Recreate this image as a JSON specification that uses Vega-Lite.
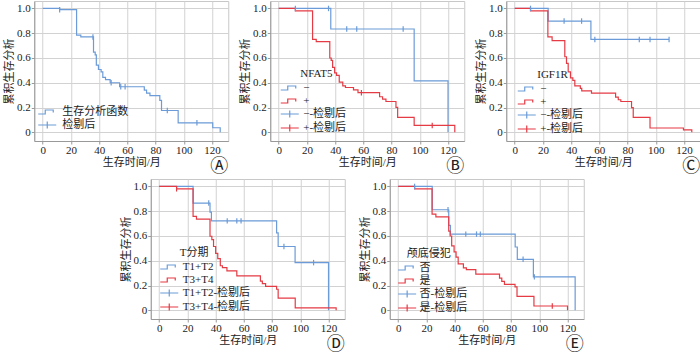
{
  "$schema": "https://vega.github.io/schema/vega-lite/v6.json",
  "padding": {"left": 3, "top": 0, "right": 0, "bottom": 0},
  "background": "white",
  "datasets": {
    "A_line": [
      {"t": 0, "S": 1, "g": "生存分析函数"}, {"t": 12, "S": 0.99, "g": "生存分析函数"}, {"t": 24, "S": 0.785, "g": "生存分析函数"},
      {"t": 27, "S": 0.77, "g": "生存分析函数"}, {"t": 36, "S": 0.647, "g": "生存分析函数"}, {"t": 37.2, "S": 0.625, "g": "生存分析函数"},
      {"t": 38, "S": 0.543, "g": "生存分析函数"}, {"t": 39.5, "S": 0.507, "g": "生存分析函数"}, {"t": 41.4, "S": 0.488, "g": "生存分析函数"},
      {"t": 42.6, "S": 0.443, "g": "生存分析函数"}, {"t": 44.5, "S": 0.425, "g": "生存分析函数"}, {"t": 47.8, "S": 0.4, "g": "生存分析函数"},
      {"t": 54.5, "S": 0.368, "g": "生存分析函数"}, {"t": 72, "S": 0.34, "g": "生存分析函数"}, {"t": 73.6, "S": 0.317, "g": "生存分析函数"},
      {"t": 76, "S": 0.296, "g": "生存分析函数"}, {"t": 83, "S": 0.258, "g": "生存分析函数"}, {"t": 84.2, "S": 0.176, "g": "生存分析函数"},
      {"t": 96, "S": 0.077, "g": "生存分析函数"}, {"t": 120.5, "S": 0.037, "g": "生存分析函数"}, {"t": 125.8, "S": 0, "g": "生存分析函数"}
    ],
    "A_cens": [
      {"t": 12, "S": 0.99, "g": "检剔后"}, {"t": 35.6, "S": 0.77, "g": "检剔后"}, {"t": 48.5, "S": 0.4, "g": "检剔后"},
      {"t": 55.3, "S": 0.368, "g": "检剔后"}, {"t": 58.4, "S": 0.368, "g": "检剔后"}, {"t": 88.3, "S": 0.176, "g": "检剔后"},
      {"t": 109.3, "S": 0.077, "g": "检剔后"}
    ],
    "A_leg": [{"g": "生存分析函数"}, {"g": "检剔后"}],
    "B_line": [
      {"t": 0, "S": 1, "g": "−"}, {"t": 36.9, "S": 0.834, "g": "−"}, {"t": 96, "S": 0.416, "g": "−"}, {"t": 120, "S": 0, "g": "−"},
      {"t": 0, "S": 1, "g": "+"}, {"t": 11.8, "S": 0.981, "g": "+"}, {"t": 24, "S": 0.75, "g": "+"}, {"t": 26.6, "S": 0.732, "g": "+"},
      {"t": 36.2, "S": 0.6, "g": "+"}, {"t": 37.2, "S": 0.58, "g": "+"}, {"t": 38.2, "S": 0.525, "g": "+"}, {"t": 39.6, "S": 0.48, "g": "+"},
      {"t": 41, "S": 0.46, "g": "+"}, {"t": 42.9, "S": 0.405, "g": "+"}, {"t": 45.4, "S": 0.375, "g": "+"}, {"t": 47.3, "S": 0.362, "g": "+"},
      {"t": 53, "S": 0.343, "g": "+"}, {"t": 56.2, "S": 0.32, "g": "+"}, {"t": 71.5, "S": 0.287, "g": "+"}, {"t": 73.6, "S": 0.268, "g": "+"},
      {"t": 76, "S": 0.249, "g": "+"}, {"t": 83.1, "S": 0.202, "g": "+"}, {"t": 84.3, "S": 0.121, "g": "+"}, {"t": 96, "S": 0.056, "g": "+"},
      {"t": 124.8, "S": 0, "g": "+"}
    ],
    "B_cens": [
      {"t": 11.8, "S": 1, "g": "−-检剔后"}, {"t": 35.3, "S": 1, "g": "−-检剔后"}, {"t": 48.2, "S": 0.834, "g": "−-检剔后"},
      {"t": 55.3, "S": 0.834, "g": "−-检剔后"}, {"t": 88.2, "S": 0.834, "g": "−-检剔后"},
      {"t": 58.6, "S": 0.32, "g": "+-检剔后"}, {"t": 108.8, "S": 0.056, "g": "+-检剔后"}
    ],
    "C_line": [
      {"t": 0, "S": 1, "g": "−"}, {"t": 23.7, "S": 0.898, "g": "−"}, {"t": 54, "S": 0.75, "g": "−"}, {"t": 109.4, "S": 0.75, "g": "−"},
      {"t": 0, "S": 1, "g": "+"}, {"t": 11.2, "S": 0.981, "g": "+"}, {"t": 23.5, "S": 0.77, "g": "+"}, {"t": 26.5, "S": 0.74, "g": "+"},
      {"t": 35.5, "S": 0.61, "g": "+"}, {"t": 36.7, "S": 0.557, "g": "+"}, {"t": 37.9, "S": 0.488, "g": "+"}, {"t": 39.5, "S": 0.44, "g": "+"},
      {"t": 41.2, "S": 0.42, "g": "+"}, {"t": 42.6, "S": 0.375, "g": "+"}, {"t": 46.5, "S": 0.355, "g": "+"}, {"t": 47.5, "S": 0.335, "g": "+"},
      {"t": 54.4, "S": 0.316, "g": "+"}, {"t": 71.5, "S": 0.284, "g": "+"}, {"t": 73.4, "S": 0.263, "g": "+"}, {"t": 75.2, "S": 0.249, "g": "+"},
      {"t": 82.8, "S": 0.2, "g": "+"}, {"t": 84, "S": 0.12, "g": "+"}, {"t": 95.9, "S": 0.035, "g": "+"}, {"t": 119.6, "S": 0.02, "g": "+"},
      {"t": 125.5, "S": 0, "g": "+"}
    ],
    "C_cens": [
      {"t": 11.2, "S": 1, "g": "−-检剔后"}, {"t": 35, "S": 0.898, "g": "−-检剔后"}, {"t": 47.4, "S": 0.898, "g": "−-检剔后"},
      {"t": 56.8, "S": 0.75, "g": "−-检剔后"}, {"t": 88.3, "S": 0.75, "g": "−-检剔后"}, {"t": 95.9, "S": 0.75, "g": "−-检剔后"},
      {"t": 109.4, "S": 0.75, "g": "−-检剔后"}
    ],
    "D_line": [
      {"t": 0, "S": 1, "g": "T1+T2"}, {"t": 24, "S": 0.866, "g": "T1+T2"}, {"t": 36, "S": 0.793, "g": "T1+T2"}, {"t": 37, "S": 0.722, "g": "T1+T2"},
      {"t": 83.2, "S": 0.625, "g": "T1+T2"}, {"t": 84.3, "S": 0.515, "g": "T1+T2"}, {"t": 96.3, "S": 0.385, "g": "T1+T2"}, {"t": 120, "S": 0, "g": "T1+T2"},
      {"t": 0, "S": 1, "g": "T3+T4"}, {"t": 12.3, "S": 0.981, "g": "T3+T4"}, {"t": 24, "S": 0.758, "g": "T3+T4"}, {"t": 26.4, "S": 0.736, "g": "T3+T4"},
      {"t": 36, "S": 0.598, "g": "T3+T4"}, {"t": 37.3, "S": 0.57, "g": "T3+T4"}, {"t": 38.5, "S": 0.515, "g": "T3+T4"}, {"t": 40, "S": 0.46, "g": "T3+T4"},
      {"t": 41.5, "S": 0.418, "g": "T3+T4"}, {"t": 43.3, "S": 0.36, "g": "T3+T4"}, {"t": 44.8, "S": 0.344, "g": "T3+T4"}, {"t": 48, "S": 0.318, "g": "T3+T4"},
      {"t": 55, "S": 0.278, "g": "T3+T4"}, {"t": 71.7, "S": 0.236, "g": "T3+T4"}, {"t": 73.1, "S": 0.215, "g": "T3+T4"}, {"t": 75.4, "S": 0.194, "g": "T3+T4"},
      {"t": 83.2, "S": 0.17, "g": "T3+T4"}, {"t": 84.3, "S": 0.099, "g": "T3+T4"}, {"t": 96.4, "S": 0.02, "g": "T3+T4"}, {"t": 125.4, "S": 0, "g": "T3+T4"}
    ],
    "D_cens": [
      {"t": 35.1, "S": 0.866, "g": "T1+T2-检剔后"}, {"t": 48.2, "S": 0.722, "g": "T1+T2-检剔后"}, {"t": 55, "S": 0.722, "g": "T1+T2-检剔后"},
      {"t": 58, "S": 0.722, "g": "T1+T2-检剔后"}, {"t": 88.4, "S": 0.515, "g": "T1+T2-检剔后"}, {"t": 109.4, "S": 0.385, "g": "T1+T2-检剔后"},
      {"t": 12.3, "S": 0.981, "g": "T3+T4-检剔后"}
    ],
    "E_line": [
      {"t": 0, "S": 1, "g": "否"}, {"t": 24.1, "S": 0.812, "g": "否"}, {"t": 35.8, "S": 0.685, "g": "否"}, {"t": 37, "S": 0.615, "g": "否"},
      {"t": 82.9, "S": 0.511, "g": "否"}, {"t": 84.4, "S": 0.412, "g": "否"}, {"t": 95.8, "S": 0.27, "g": "否"}, {"t": 125.4, "S": 0, "g": "否"},
      {"t": 0, "S": 1, "g": "是"}, {"t": 11.6, "S": 0.981, "g": "是"}, {"t": 24, "S": 0.776, "g": "是"}, {"t": 26.7, "S": 0.755, "g": "是"},
      {"t": 35.8, "S": 0.64, "g": "是"}, {"t": 36.8, "S": 0.6, "g": "是"}, {"t": 37.9, "S": 0.52, "g": "是"}, {"t": 39.6, "S": 0.472, "g": "是"},
      {"t": 41, "S": 0.43, "g": "是"}, {"t": 42.5, "S": 0.375, "g": "是"}, {"t": 46.2, "S": 0.343, "g": "是"}, {"t": 48.3, "S": 0.328, "g": "是"},
      {"t": 55, "S": 0.292, "g": "是"}, {"t": 71.8, "S": 0.26, "g": "是"}, {"t": 73.4, "S": 0.234, "g": "是"}, {"t": 75.3, "S": 0.21, "g": "是"},
      {"t": 82.8, "S": 0.19, "g": "是"}, {"t": 84.2, "S": 0.113, "g": "是"}, {"t": 96.2, "S": 0.035, "g": "是"}, {"t": 120, "S": 0, "g": "是"}
    ],
    "E_cens": [
      {"t": 11.6, "S": 1, "g": "否-检剔后"}, {"t": 35.3, "S": 0.812, "g": "否-检剔后"}, {"t": 47.9, "S": 0.615, "g": "否-检剔后"},
      {"t": 55.5, "S": 0.615, "g": "否-检剔后"}, {"t": 58.2, "S": 0.615, "g": "否-检剔后"}, {"t": 88.5, "S": 0.412, "g": "否-检剔后"},
      {"t": 96.5, "S": 0.27, "g": "否-检剔后"}, {"t": 109.2, "S": 0.035, "g": "是-检剔后"}
    ],
    "B_leg": [{"g": "−"}, {"g": "+"}, {"g": "−-检剔后"}, {"g": "+-检剔后"}],
    "D_leg": [{"g": "T1+T2"}, {"g": "T3+T4"}, {"g": "T1+T2-检剔后"}, {"g": "T3+T4-检剔后"}],
    "E_leg": [{"g": "否"}, {"g": "是"}, {"g": "否-检剔后"}, {"g": "是-检剔后"}]
  },
  "vconcat": [
    {
      "hconcat": [
        {
          "width": 194, "height": 140,
          "title": "Ⓐ",
          "layer": [
            {"data": {"name": "A_leg"}, "mark": {"type": "point", "filled": false, "opacity": 0, "strokeWidth": 1.2},
             "encoding": {
               "color": {"field": "g", "type": "nominal", "scale": {"domain": ["生存分析函数", "检剔后"], "range": ["#6b9bd8", "#6b9bd8"]}, "legend": {"orient": "none", "legendX": 7, "legendY": 105, "title": null}},
               "shape": {"field": "g", "type": "nominal", "scale": {"domain": ["生存分析函数", "检剔后"], "range": ["M-1.8,0.4L-0.4,0.4L-0.4,-0.4L1.2,-0.4L1.2,0.1", "M-1.8,0L1.8,0M0,-0.7L0,0.7"]}, "legend": {"orient": "none", "legendX": 7, "legendY": 105, "title": null}}}},
            {"data": {"name": "A_line"}, "mark": {"type": "line", "interpolate": "step-after", "strokeWidth": 1.2},
             "encoding": {
               "x": {"field": "t", "type": "quantitative", "scale": {"domain": [-6, 131.5], "nice": false, "zero": false}, "axis": {"values": [0, 20, 40, 60, 80, 100, 120], "tickCount": 10, "title": "生存时间/月", "labelPadding": 0, "titlePadding": 1}},
               "y": {"field": "S", "type": "quantitative", "scale": {"domain": [-0.07, 1.06], "nice": false, "zero": false}, "axis": {"values": [0, 0.2, 0.4, 0.6, 0.8, 1], "tickCount": 10, "title": "累积生存分析", "labelExpr": "datum.value == 0 ? '0' : format(datum.value, '.1f')"}},
               "color": {"field": "g", "type": "nominal", "scale": {"domain": ["生存分析函数", "检剔后"], "range": ["#6b9bd8", "#6b9bd8"]}, "legend": null}}},
            {"data": {"name": "A_cens"}, "mark": {"type": "point", "shape": "M0,-1L0,1", "size": 30, "filled": false, "strokeWidth": 1.2, "opacity": 1},
             "encoding": {
               "x": {"field": "t", "type": "quantitative"},
               "y": {"field": "S", "type": "quantitative"},
               "color": {"field": "g", "type": "nominal", "scale": {"domain": ["生存分析函数", "检剔后"], "range": ["#6b9bd8", "#6b9bd8"]}, "legend": null}}}
          ]
        },
        {
          "width": 194, "height": 140,
          "title": "Ⓑ",
          "layer": [
            {"data": {"name": "B_leg"}, "mark": {"type": "point", "filled": false, "opacity": 0, "strokeWidth": 1.2},
             "encoding": {
               "color": {"field": "g", "type": "nominal", "scale": {"domain": ["−", "+", "−-检剔后", "+-检剔后"], "range": ["#6b9bd8", "#e53b45", "#6b9bd8", "#e53b45"]}, "legend": {"orient": "none", "legendX": 30, "legendY": 67, "title": "NFAT5", "labelOffset": 7.5, "symbolOffset": -16.5}},
               "shape": {"field": "g", "type": "nominal", "scale": {"domain": ["−", "+", "−-检剔后", "+-检剔后"], "range": ["M-1.8,0.4L-0.4,0.4L-0.4,-0.4L1.2,-0.4L1.2,0.1", "M-1.8,0.4L-0.4,0.4L-0.4,-0.4L1.2,-0.4L1.2,0.1", "M-1.8,0L1.8,0M0,-0.7L0,0.7", "M-1.8,0L1.8,0M0,-0.7L0,0.7"]}, "legend": {"orient": "none", "legendX": 30, "legendY": 67, "title": "NFAT5", "labelOffset": 7.5, "symbolOffset": -16.5}}}},
            {"data": {"name": "B_line"}, "mark": {"type": "line", "interpolate": "step-after", "strokeWidth": 1.2},
             "encoding": {
               "x": {"field": "t", "type": "quantitative", "scale": {"domain": [-6, 131.5], "nice": false, "zero": false}, "axis": {"values": [0, 20, 40, 60, 80, 100, 120], "tickCount": 10, "title": "生存时间/月", "labelPadding": 0, "titlePadding": 1}},
               "y": {"field": "S", "type": "quantitative", "scale": {"domain": [-0.07, 1.06], "nice": false, "zero": false}, "axis": {"values": [0, 0.2, 0.4, 0.6, 0.8, 1], "tickCount": 10, "title": "累积生存分析", "labelExpr": "datum.value == 0 ? '0' : format(datum.value, '.1f')"}},
               "color": {"field": "g", "type": "nominal", "scale": {"domain": ["−", "+", "−-检剔后", "+-检剔后"], "range": ["#6b9bd8", "#e53b45", "#6b9bd8", "#e53b45"]}, "legend": null}}},
            {"data": {"name": "B_cens"}, "mark": {"type": "point", "shape": "M0,-1L0,1", "size": 30, "filled": false, "strokeWidth": 1.2, "opacity": 1},
             "encoding": {
               "x": {"field": "t", "type": "quantitative"},
               "y": {"field": "S", "type": "quantitative"},
               "color": {"field": "g", "type": "nominal", "scale": {"domain": ["−", "+", "−-检剔后", "+-检剔后"], "range": ["#6b9bd8", "#e53b45", "#6b9bd8", "#e53b45"]}, "legend": null}}}
          ]
        },
        {
          "width": 194, "height": 140,
          "title": "Ⓒ",
          "layer": [
            {"data": {"name": "B_leg"}, "mark": {"type": "point", "filled": false, "opacity": 0, "strokeWidth": 1.2},
             "encoding": {
               "color": {"field": "g", "type": "nominal", "scale": {"domain": ["−", "+", "−-检剔后", "+-检剔后"], "range": ["#6b9bd8", "#e53b45", "#6b9bd8", "#e53b45"]}, "legend": {"orient": "none", "legendX": 31, "legendY": 68, "title": "IGF1R", "labelOffset": 7.5, "symbolOffset": -16.5}},
               "shape": {"field": "g", "type": "nominal", "scale": {"domain": ["−", "+", "−-检剔后", "+-检剔后"], "range": ["M-1.8,0.4L-0.4,0.4L-0.4,-0.4L1.2,-0.4L1.2,0.1", "M-1.8,0.4L-0.4,0.4L-0.4,-0.4L1.2,-0.4L1.2,0.1", "M-1.8,0L1.8,0M0,-0.7L0,0.7", "M-1.8,0L1.8,0M0,-0.7L0,0.7"]}, "legend": {"orient": "none", "legendX": 31, "legendY": 68, "title": "IGF1R", "labelOffset": 7.5, "symbolOffset": -16.5}}}},
            {"data": {"name": "C_line"}, "mark": {"type": "line", "interpolate": "step-after", "strokeWidth": 1.2},
             "encoding": {
               "x": {"field": "t", "type": "quantitative", "scale": {"domain": [-6, 131.5], "nice": false, "zero": false}, "axis": {"values": [0, 20, 40, 60, 80, 100, 120], "tickCount": 10, "title": "生存时间/月", "labelPadding": 0, "titlePadding": 1}},
               "y": {"field": "S", "type": "quantitative", "scale": {"domain": [-0.07, 1.06], "nice": false, "zero": false}, "axis": {"values": [0, 0.2, 0.4, 0.6, 0.8, 1], "tickCount": 10, "title": "累积生存分析", "labelExpr": "datum.value == 0 ? '0' : format(datum.value, '.1f')"}},
               "color": {"field": "g", "type": "nominal", "scale": {"domain": ["−", "+", "−-检剔后", "+-检剔后"], "range": ["#6b9bd8", "#e53b45", "#6b9bd8", "#e53b45"]}, "legend": null}}},
            {"data": {"name": "C_cens"}, "mark": {"type": "point", "shape": "M0,-1L0,1", "size": 30, "filled": false, "strokeWidth": 1.2, "opacity": 1},
             "encoding": {
               "x": {"field": "t", "type": "quantitative"},
               "y": {"field": "S", "type": "quantitative"},
               "color": {"field": "g", "type": "nominal", "scale": {"domain": ["−", "+", "−-检剔后", "+-检剔后"], "range": ["#6b9bd8", "#e53b45", "#6b9bd8", "#e53b45"]}, "legend": null}}}
          ]
        }
      ],
      "spacing": 9,
      "resolve": {"scale": {"color": "independent", "shape": "independent"}, "legend": {"color": "independent", "shape": "independent"}}
    },
    {
      "hconcat": [
        {
          "width": 194, "height": 140,
          "title": "Ⓓ",
          "layer": [
            {"data": {"name": "D_leg"}, "mark": {"type": "point", "filled": false, "opacity": 0, "strokeWidth": 1.2},
             "encoding": {
               "color": {"field": "g", "type": "nominal", "scale": {"domain": ["T1+T2", "T3+T4", "T1+T2-检剔后", "T3+T4-检剔后"], "range": ["#6b9bd8", "#e53b45", "#6b9bd8", "#e53b45"]}, "legend": {"orient": "none", "legendX": 29, "legendY": 68, "title": "T分期", "labelOffset": 7.5, "symbolOffset": -16.5}},
               "shape": {"field": "g", "type": "nominal", "scale": {"domain": ["T1+T2", "T3+T4", "T1+T2-检剔后", "T3+T4-检剔后"], "range": ["M-1.8,0.4L-0.4,0.4L-0.4,-0.4L1.2,-0.4L1.2,0.1", "M-1.8,0.4L-0.4,0.4L-0.4,-0.4L1.2,-0.4L1.2,0.1", "M-1.8,0L1.8,0M0,-0.7L0,0.7", "M-1.8,0L1.8,0M0,-0.7L0,0.7"]}, "legend": {"orient": "none", "legendX": 29, "legendY": 68, "title": "T分期", "labelOffset": 7.5, "symbolOffset": -16.5}}}},
            {"data": {"name": "D_line"}, "mark": {"type": "line", "interpolate": "step-after", "strokeWidth": 1.2},
             "encoding": {
               "x": {"field": "t", "type": "quantitative", "scale": {"domain": [-6, 131.5], "nice": false, "zero": false}, "axis": {"values": [0, 20, 40, 60, 80, 100, 120], "tickCount": 10, "title": "生存时间/月", "labelPadding": 0, "titlePadding": 1}},
               "y": {"field": "S", "type": "quantitative", "scale": {"domain": [-0.07, 1.06], "nice": false, "zero": false}, "axis": {"values": [0, 0.2, 0.4, 0.6, 0.8, 1], "tickCount": 10, "title": "累积生存分析", "labelExpr": "datum.value == 0 ? '0' : format(datum.value, '.1f')"}},
               "color": {"field": "g", "type": "nominal", "scale": {"domain": ["T1+T2", "T3+T4", "T1+T2-检剔后", "T3+T4-检剔后"], "range": ["#6b9bd8", "#e53b45", "#6b9bd8", "#e53b45"]}, "legend": null}}},
            {"data": {"name": "D_cens"}, "mark": {"type": "point", "shape": "M0,-1L0,1", "size": 30, "filled": false, "strokeWidth": 1.2, "opacity": 1},
             "encoding": {
               "x": {"field": "t", "type": "quantitative"},
               "y": {"field": "S", "type": "quantitative"},
               "color": {"field": "g", "type": "nominal", "scale": {"domain": ["T1+T2", "T3+T4", "T1+T2-检剔后", "T3+T4-检剔后"], "range": ["#6b9bd8", "#e53b45", "#6b9bd8", "#e53b45"]}, "legend": null}}}
          ]
        },
        {
          "width": 194, "height": 140,
          "title": "Ⓔ",
          "layer": [
            {"data": {"name": "E_leg"}, "mark": {"type": "point", "filled": false, "opacity": 0, "strokeWidth": 1.2},
             "encoding": {
               "color": {"field": "g", "type": "nominal", "scale": {"domain": ["否", "是", "否-检剔后", "是-检剔后"], "range": ["#6b9bd8", "#e53b45", "#6b9bd8", "#e53b45"]}, "legend": {"orient": "none", "legendX": 17, "legendY": 69, "title": "颅底侵犯", "labelOffset": 6.4, "symbolOffset": -5.6}},
               "shape": {"field": "g", "type": "nominal", "scale": {"domain": ["否", "是", "否-检剔后", "是-检剔后"], "range": ["M-1.8,0.4L-0.4,0.4L-0.4,-0.4L1.2,-0.4L1.2,0.1", "M-1.8,0.4L-0.4,0.4L-0.4,-0.4L1.2,-0.4L1.2,0.1", "M-1.8,0L1.8,0M0,-0.7L0,0.7", "M-1.8,0L1.8,0M0,-0.7L0,0.7"]}, "legend": {"orient": "none", "legendX": 17, "legendY": 69, "title": "颅底侵犯", "labelOffset": 6.4, "symbolOffset": -5.6}}}},
            {"data": {"name": "E_line"}, "mark": {"type": "line", "interpolate": "step-after", "strokeWidth": 1.2},
             "encoding": {
               "x": {"field": "t", "type": "quantitative", "scale": {"domain": [-6, 131.5], "nice": false, "zero": false}, "axis": {"values": [0, 20, 40, 60, 80, 100, 120], "tickCount": 10, "title": "生存时间/月", "labelPadding": 0, "titlePadding": 1}},
               "y": {"field": "S", "type": "quantitative", "scale": {"domain": [-0.07, 1.06], "nice": false, "zero": false}, "axis": {"values": [0, 0.2, 0.4, 0.6, 0.8, 1], "tickCount": 10, "title": "累积生存分析", "labelExpr": "datum.value == 0 ? '0' : format(datum.value, '.1f')"}},
               "color": {"field": "g", "type": "nominal", "scale": {"domain": ["否", "是", "否-检剔后", "是-检剔后"], "range": ["#6b9bd8", "#e53b45", "#6b9bd8", "#e53b45"]}, "legend": null}}},
            {"data": {"name": "E_cens"}, "mark": {"type": "point", "shape": "M0,-1L0,1", "size": 30, "filled": false, "strokeWidth": 1.2, "opacity": 1},
             "encoding": {
               "x": {"field": "t", "type": "quantitative"},
               "y": {"field": "S", "type": "quantitative"},
               "color": {"field": "g", "type": "nominal", "scale": {"domain": ["否", "是", "否-检剔后", "是-检剔后"], "range": ["#6b9bd8", "#e53b45", "#6b9bd8", "#e53b45"]}, "legend": null}}}
          ]
        }
      ],
      "spacing": 12,
      "resolve": {"scale": {"color": "independent", "shape": "independent"}, "legend": {"color": "independent", "shape": "independent"}}
    }
  ],
  "spacing": 1,
  "center": true,
  "resolve": {"scale": {"color": "independent", "shape": "independent"}, "legend": {"color": "independent", "shape": "independent"}},
  "config": {
    "view": {"stroke": "#c8c8c8", "strokeWidth": 1},
    "axis": {
      "grid": true, "gridColor": "#d2d2d2", "gridWidth": 1, "labelOverlap": false,
      "domainColor": "#999999", "tickColor": "#999999", "tickSize": 3,
      "labelFont": "'Liberation Serif', 'Noto Sans CJK SC'", "labelFontSize": 11, "labelColor": "#222222", "labelPadding": 1,
      "titleFont": "'Liberation Serif', 'Noto Sans CJK SC'", "titleFontSize": 11, "titleFontWeight": "normal", "titleColor": "#222222", "titlePadding": 2
    },
    "legend": {
      "labelFont": "'Liberation Serif', 'Noto Sans CJK SC'", "labelFontSize": 11, "labelColor": "#222222", "labelOffset": 9,
      "titleFont": "'Liberation Serif', 'Noto Sans CJK SC'", "titleFontSize": 11, "titleFontWeight": "normal", "titleColor": "#222222", "titlePadding": 3,
      "symbolSize": 100, "symbolStrokeWidth": 1.2, "rowPadding": 2, "padding": 0
    },
    "title": {"font": "'Noto Sans CJK SC'", "fontSize": 18, "fontWeight": "normal", "color": "#222222", "orient": "bottom", "anchor": "end", "frame": "group", "offset": -9}
  }
}
